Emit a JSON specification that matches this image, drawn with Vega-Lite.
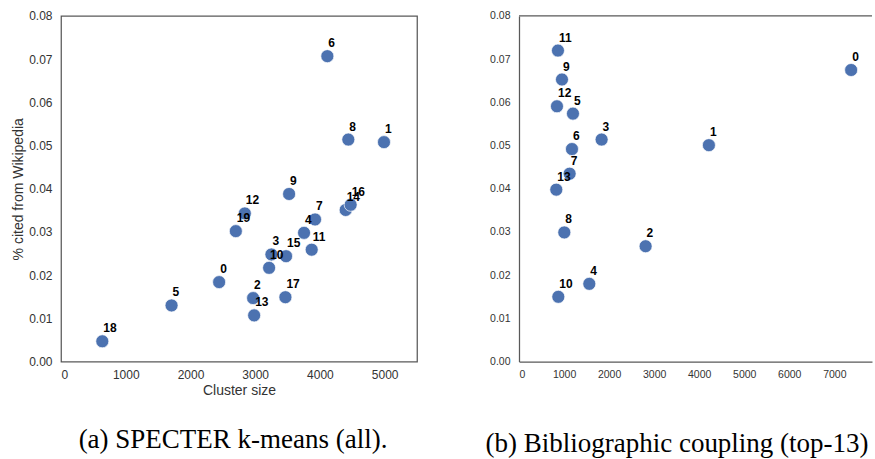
{
  "$schema": "https://vega.github.io/schema/vega-lite/v6.json",
  "background": "white",
  "padding": {"left": 11, "top": 9, "right": 0, "bottom": 0},
  "spacing": 67,
  "config": {
    "font": "Liberation Sans",
    "axis": {"grid": false, "ticks": false, "labelColor": "#333333", "titleColor": "#333333", "domainColor": "#595959", "domainWidth": 1.25, "labelFont": "Liberation Sans", "titleFont": "Liberation Sans", "titleFontWeight": "normal"},
    "title": {"font": "Liberation Serif", "fontSize": 27, "fontWeight": "normal", "color": "#000000"}
  },
  "datasets": {
    "specter": [
      {"id": "0", "size": 2443, "pct": 0.0184},
      {"id": "1", "size": 4990, "pct": 0.0508},
      {"id": "2", "size": 2968, "pct": 0.0147},
      {"id": "3", "size": 3251, "pct": 0.0248},
      {"id": "4", "size": 3755, "pct": 0.0298},
      {"id": "5", "size": 1708, "pct": 0.0130},
      {"id": "6", "size": 4115, "pct": 0.0707},
      {"id": "7", "size": 3925, "pct": 0.0329},
      {"id": "8", "size": 4439, "pct": 0.0514},
      {"id": "9", "size": 3524, "pct": 0.0388},
      {"id": "10", "size": 3215, "pct": 0.0217},
      {"id": "11", "size": 3873, "pct": 0.0259},
      {"id": "12", "size": 2840, "pct": 0.0343},
      {"id": "13", "size": 2984, "pct": 0.0107},
      {"id": "14", "size": 4398, "pct": 0.0351},
      {"id": "15", "size": 3477, "pct": 0.0244},
      {"id": "16", "size": 4475, "pct": 0.0363},
      {"id": "17", "size": 3467, "pct": 0.0149},
      {"id": "18", "size": 638, "pct": 0.0047},
      {"id": "19", "size": 2701, "pct": 0.0302}
    ],
    "biblio": [
      {"id": "0", "size": 7374, "pct": 0.0675},
      {"id": "1", "size": 4216, "pct": 0.0501},
      {"id": "2", "size": 2811, "pct": 0.0267},
      {"id": "3", "size": 1834, "pct": 0.0514},
      {"id": "4", "size": 1561, "pct": 0.0180},
      {"id": "5", "size": 1198, "pct": 0.0574},
      {"id": "6", "size": 1176, "pct": 0.0492},
      {"id": "7", "size": 1124, "pct": 0.0435},
      {"id": "8", "size": 1006, "pct": 0.0299},
      {"id": "9", "size": 954, "pct": 0.0653},
      {"id": "10", "size": 873, "pct": 0.0150},
      {"id": "11", "size": 865, "pct": 0.0720},
      {"id": "12", "size": 843, "pct": 0.0591},
      {"id": "13", "size": 828, "pct": 0.0398}
    ]
  },
  "hconcat": [
    {
      "width": 356,
      "height": 345.6,
      "view": {"stroke": "#595959", "strokeWidth": 1.25},
      "title": {"text": "(a) SPECTER k-means (all).", "orient": "bottom", "anchor": "middle", "offset": 29, "dx": -6},
      "data": {"name": "specter"},
      "layer": [
        {
          "mark": {"type": "circle", "size": 170, "color": "#4C72B0", "opacity": 1, "stroke": "white", "strokeWidth": 0.7},
          "encoding": {
            "x": {"field": "size", "type": "quantitative", "scale": {"domain": [0, 5500], "nice": false, "zero": false}, "axis": {"title": "Cluster size", "values": [0, 1000, 2000, 3000, 4000, 5000], "format": "d", "labelFontSize": 12, "labelPadding": 8, "titleFontSize": 14, "titlePadding": 3, "domain": false}},
            "y": {"field": "pct", "type": "quantitative", "scale": {"domain": [0, 0.08], "nice": false, "zero": false}, "axis": {"title": "% cited from Wikipedia", "values": [0, 0.01, 0.02, 0.03, 0.04, 0.05, 0.06, 0.07, 0.08], "format": ".2f", "labelFontSize": 12, "labelPadding": 9, "titleFontSize": 14, "titlePadding": 3, "domain": false}}
          }
        },
        {
          "mark": {"type": "text", "align": "left", "baseline": "alphabetic", "dx": 1, "dy": -9, "fontWeight": "bold", "fontSize": 12, "font": "Liberation Sans", "color": "#000000"},
          "encoding": {
            "x": {"field": "size", "type": "quantitative"},
            "y": {"field": "pct", "type": "quantitative"},
            "text": {"field": "id"}
          }
        }
      ]
    },
    {
      "width": 353,
      "height": 345.6,
      "view": {"stroke": null},
      "title": {"text": "(b) Bibliographic coupling (top-13)", "orient": "bottom", "anchor": "start", "frame": "bounds", "offset": 51, "dx": -4},
      "data": {"name": "biblio"},
      "layer": [
        {
          "data": {"values": [{}]},
          "mark": {"type": "rule", "color": "#595959", "strokeWidth": 1.25},
          "encoding": {"y": {"datum": 0.08, "type": "quantitative"}}
        },
        {
          "mark": {"type": "circle", "size": 170, "color": "#4C72B0", "opacity": 1, "stroke": "white", "strokeWidth": 0.7},
          "encoding": {
            "x": {"field": "size", "type": "quantitative", "scale": {"domain": [0, 7837], "nice": false, "zero": false}, "axis": {"title": null, "values": [0, 1000, 2000, 3000, 4000, 5000, 6000, 7000], "format": "d", "labelFontSize": 10.5, "labelPadding": 8, "domain": true}},
            "y": {"field": "pct", "type": "quantitative", "scale": {"domain": [0, 0.08], "nice": false, "zero": false}, "axis": {"title": null, "values": [0, 0.01, 0.02, 0.03, 0.04, 0.05, 0.06, 0.07, 0.08], "format": ".2f", "labelFontSize": 10.5, "labelPadding": 9, "domain": true}}
          }
        },
        {
          "mark": {"type": "text", "align": "left", "baseline": "alphabetic", "dx": 1, "dy": -9, "fontWeight": "bold", "fontSize": 12, "font": "Liberation Sans", "color": "#000000"},
          "encoding": {
            "x": {"field": "size", "type": "quantitative"},
            "y": {"field": "pct", "type": "quantitative"},
            "text": {"field": "id"}
          }
        }
      ]
    }
  ]
}
